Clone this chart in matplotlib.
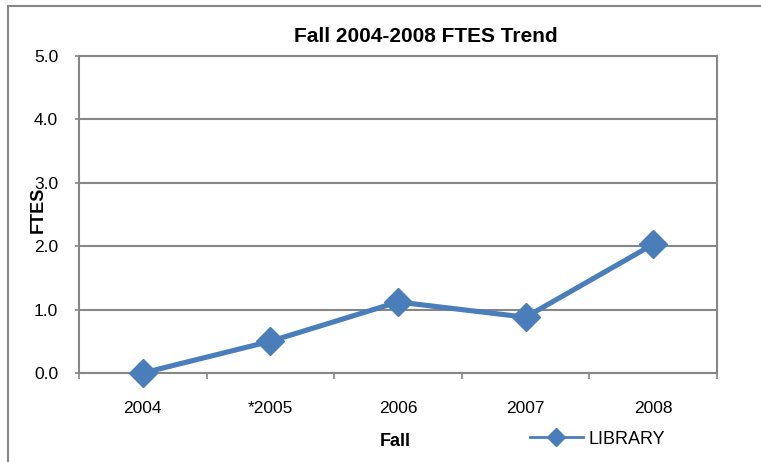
import matplotlib.pyplot as plt
from matplotlib.lines import Line2D
from matplotlib.patches import Rectangle

plt.rcParams['font.family'] = ['Liberation Sans', 'DejaVu Sans']

categories = ["2004", "*2005", "2006", "2007", "2008"]
library_ftes = [0.0, 0.5, 1.12, 0.88, 2.03]
y_ticks = [0.0, 1.0, 2.0, 3.0, 4.0, 5.0]

W, H = 761, 462
fig = plt.figure(figsize=(W / 100, H / 100), dpi=100)
grey = "#868686"
blue = "#4a7ebb"

# outer chart border (runs off the right and bottom edges)
fig.patches.append(Rectangle((8 / W, -0.05), 1.1, (H - 6) / H + 0.05,
                             transform=fig.transFigure, fill=False,
                             edgecolor=grey, linewidth=1.5))

ax = fig.add_axes([79 / W, (H - 373) / H, (717 - 79) / W, (373 - 56) / H])
x = list(range(len(categories)))
ax.plot(x, library_ftes, color=blue, linewidth=3.7, marker="D",
        markersize=14, zorder=3, clip_on=False)

ax.set_xlim(-0.5, len(categories) - 0.5)
ax.set_ylim(0, 5)
ax.set_yticks(y_ticks)
ax.set_yticklabels([f"{v:.1f}" for v in y_ticks])
ax.set_xticks([i + 0.5 for i in range(-1, len(categories))], minor=False)
ax.set_xticklabels([])
ax.set_xticks(x, minor=True)
ax.set_xticklabels(categories, minor=True)
ax.tick_params(axis="x", which="major", length=4, color=grey, width=1.2)
ax.tick_params(axis="x", which="minor", length=0, pad=20, labelsize=12.5)
ax.tick_params(axis="y", length=3, color=grey, width=1.2, labelsize=12.5, pad=12)
ax.grid(axis="y", color=grey, linewidth=1.5)
ax.set_axisbelow(True)
for s in ax.spines.values():
    s.set_color(grey)
    s.set_linewidth(1.5)

fig.text(426 / W, 1 - 37 / H, "Fall 2004-2008 FTES Trend", ha="center",
         va="center", fontsize=15, fontweight="bold")
fig.text(38 / W, 1 - 210 / H, "FTES", ha="center", va="center",
         rotation=90, fontsize=13, fontweight="bold")
fig.text(395 / W, 1 - 441 / H, "Fall", ha="center", va="center",
         fontsize=13, fontweight="bold")

handle = Line2D([], [], color=blue, linewidth=2, marker="D", markersize=9)
fig.legend([handle], ["LIBRARY"], loc="center left",
           bbox_to_anchor=(514 / W, 1 - 439 / H), frameon=False,
           fontsize=13, handlelength=2.9, handletextpad=0.3)

fig.savefig("out.png", dpi=100)
